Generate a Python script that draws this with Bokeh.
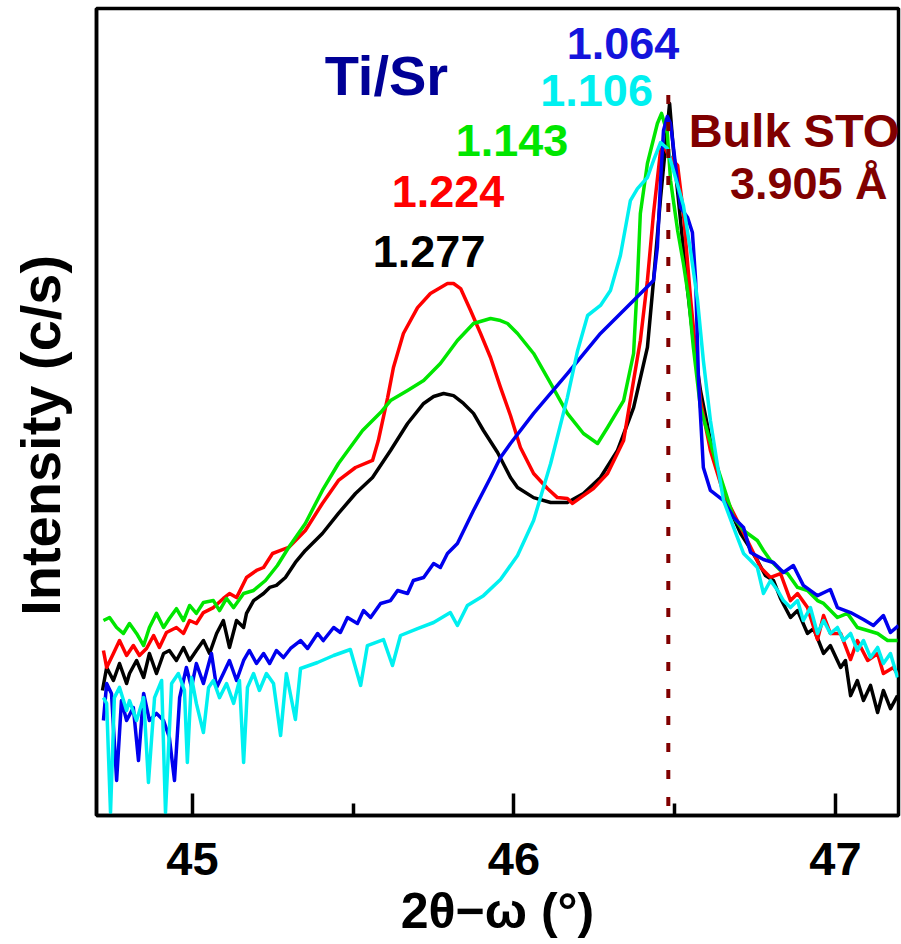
from bokeh.plotting import figure
from bokeh.models import Range1d, FixedTicker, Label
from bokeh.embed import file_html
from bokeh.resources import INLINE

# ---------------- data (2theta in degrees, intensity in c/s) ----------------
x_black = [44.720, 44.733, 44.754, 44.773, 44.795, 44.804, 44.826, 44.848, 44.866, 44.888,
           44.910, 44.928, 44.950, 44.972, 44.991, 45.012, 45.034, 45.053, 45.075, 45.096,
           45.115, 45.137, 45.159, 45.168, 45.190, 45.221, 45.240, 45.261, 45.289, 45.320,
           45.351, 45.404, 45.454, 45.507, 45.560, 45.616, 45.669, 45.719, 45.750,
           45.781, 45.812, 45.843, 45.874, 45.905, 45.949, 45.989, 46.011, 46.061, 46.114,
           46.166, 46.216, 46.269, 46.322, 46.372, 46.415, 46.434, 46.456, 46.471, 46.484,
           46.496, 46.518, 46.540, 46.558, 46.580, 46.611, 46.642, 46.673, 46.705, 46.729,
           46.757, 46.782, 46.807, 46.829, 46.860, 46.882, 46.913, 46.932, 46.963, 46.984,
           47.016, 47.031, 47.047, 47.068, 47.087, 47.109, 47.131, 47.149, 47.171, 47.193]
i_black = [1.78, 3.02, 2.24, 3.31, 2.09, 2.63, 3.55, 2.40, 4.17, 2.63,
           4.17, 4.47, 3.55, 4.79, 3.55, 4.47, 5.62, 4.17, 6.61, 8.91,
           4.79, 8.91, 7.59, 10.5, 14.1, 16.6, 19.1, 20.0, 24.0, 33.9,
           44.7, 66.1, 105, 166, 240, 447, 832, 1320, 1550,
           1660, 1580, 1320, 1050, 708, 427, 240, 191, 151, 135,
           135, 166, 240, 447, 1200, 4790, 22400, 151000, 479000, 1320000,
           447000, 89100, 17800, 5620, 1780, 562, 224, 112, 66.1, 50.1,
           35.5, 25.1, 22.4, 14.8, 9.55, 11.2, 6.61, 7.41, 4.17, 5.01,
           3.02, 3.55, 1.58, 2.24, 1.41, 2.00, 1.07, 1.78, 1.17, 1.58]

x_red = [44.723, 44.733, 44.754, 44.773, 44.795, 44.816, 44.835, 44.857, 44.879, 44.897,
         44.919, 44.950, 44.972, 44.991, 45.012, 45.034, 45.065, 45.096, 45.115, 45.137,
         45.168, 45.199, 45.221, 45.249, 45.274, 45.299, 45.351, 45.404, 45.454, 45.507,
         45.560, 45.578, 45.607, 45.625, 45.656, 45.700, 45.740, 45.793,
         45.812, 45.834, 45.865, 45.896, 45.927, 45.958, 45.989, 46.020, 46.061, 46.104,
         46.135, 46.166, 46.182, 46.207, 46.247, 46.291, 46.341, 46.372, 46.393, 46.415,
         46.434, 46.456, 46.465, 46.481, 46.509, 46.527, 46.549, 46.580, 46.611, 46.652,
         46.683, 46.726, 46.767, 46.798, 46.829, 46.860, 46.882, 46.913, 46.944, 46.963,
         46.984, 47.016, 47.047, 47.068, 47.100, 47.131, 47.149, 47.180, 47.196]
i_red = [4.47, 3.02, 4.17, 5.62, 3.98, 5.01, 3.98, 4.68, 6.31, 4.79,
         6.76, 7.59, 6.61, 8.91, 8.32, 10.7, 12.0, 14.8, 16.6, 15.1,
         24.0, 28.2, 30.2, 41.7, 44.7, 47.9, 70.8, 132, 224, 302,
         355, 562, 1510, 3020, 6610, 12000, 16600, 20900,
         20900, 18600, 11200, 6610, 3800, 1910, 1000, 479, 263, 186,
         151, 148, 132, 151, 186, 263, 562, 2240, 5620, 22400,
         105000, 447000, 501000, 398000, 316000, 105000, 15100, 1410, 447, 166,
         105, 56.2, 30.2, 24.0, 26.3, 14.1, 16.6, 12.0, 5.75, 10.0,
         6.61, 6.61, 3.63, 5.62, 3.55, 4.17, 2.63, 3.02, 2.51]

x_green = [44.723, 44.742, 44.764, 44.785, 44.804, 44.826, 44.848, 44.866, 44.888, 44.910,
           44.928, 44.950, 44.972, 44.991, 45.012, 45.034, 45.065, 45.084, 45.106, 45.128,
           45.159, 45.190, 45.227, 45.264, 45.299, 45.351, 45.404, 45.454, 45.529, 45.585,
           45.616, 45.669, 45.719, 45.771, 45.824, 45.874, 45.927, 45.958,
           45.980, 46.011, 46.061, 46.114, 46.166, 46.216, 46.260, 46.291, 46.341, 46.372,
           46.384, 46.393, 46.415, 46.446, 46.459, 46.477, 46.487, 46.509, 46.527, 46.543,
           46.558, 46.580, 46.633, 46.683, 46.714, 46.757, 46.776, 46.798, 46.829, 46.851,
           46.882, 46.913, 46.944, 46.963, 47.006, 47.037, 47.068, 47.100, 47.131, 47.162, 47.193]
i_green = [8.91, 9.55, 7.59, 6.61, 8.32, 6.61, 5.01, 7.59, 10.5, 7.59,
           9.33, 11.7, 8.91, 12.6, 10.5, 13.5, 14.1, 11.2, 14.8, 12.0,
           16.6, 17.8, 22.4, 31.6, 47.9, 83.2, 178, 331, 708, 1070,
           1410, 1780, 2240, 3310, 5620, 8320, 9330, 8910,
           8320, 6610, 4170, 2090, 1050, 661, 525, 759, 1410, 4170,
           22400, 105000, 331000, 832000, 1050000, 661000, 224000, 70800, 33100, 15100,
           4790, 1200, 302, 95.5, 70.8, 56.2, 44.7, 35.5, 28.2, 26.3,
           19.1, 17.8, 14.1, 13.2, 9.55, 10.5, 7.59, 7.08, 6.61, 5.62, 5.62]

x_blue = [44.723, 44.733, 44.748, 44.764, 44.779, 44.795, 44.816, 44.832, 44.848, 44.866,
          44.888, 44.910, 44.928, 44.944, 44.960, 44.981, 44.997, 45.012, 45.034, 45.059,
          45.075, 45.096, 45.115, 45.137, 45.159, 45.177, 45.199, 45.221, 45.240, 45.261,
          45.283, 45.305, 45.336, 45.358, 45.389, 45.407, 45.439, 45.460, 45.482, 45.513,
          45.532, 45.554, 45.585, 45.616, 45.638, 45.669, 45.687, 45.719, 45.750, 45.771,
          45.793, 45.824, 45.874, 45.927, 45.958, 45.989, 46.061, 46.166, 46.269, 46.372,
          46.434, 46.446, 46.456, 46.465, 46.477, 46.487, 46.496, 46.518, 46.540, 46.555,
          46.565, 46.574, 46.589, 46.611, 46.652, 46.683, 46.714, 46.736, 46.776, 46.807,
          46.838, 46.869, 46.900, 46.944, 46.984, 47.006, 47.047, 47.087, 47.118, 47.149,
          47.171, 47.196]
i_blue = [0.891, 2.09, 1.66, 0.224, 1.41, 0.891, 1.20, 0.355, 1.66, 0.891,
          1.05, 0.891, 0.603, 0.224, 1.51, 3.02, 1.91, 3.31, 2.09, 4.17,
          1.91, 2.63, 3.55, 2.24, 3.55, 4.47, 3.31, 4.17, 3.31, 4.47,
          3.80, 4.68, 5.62, 4.68, 6.61, 5.62, 7.59, 6.76, 9.55, 8.32,
          11.2, 9.55, 13.2, 14.1, 17.8, 16.6, 22.4, 24.0, 33.1, 30.2,
          41.7, 52.5, 112, 240, 380, 525, 1050, 2630, 6610, 14100,
          22400, 47900, 224000, 708000, 977000, 832000, 479000, 120000, 95500, 67600,
          22400, 2240, 302, 178, 141, 95.5, 75.9, 42.7, 36.3, 33.9,
          26.9, 31.6, 20.0, 15.8, 18.2, 12.0, 10.7, 9.12, 7.94, 10.0,
          6.76, 7.94]

x_cyan = [44.723, 44.733, 44.745, 44.757, 44.773, 44.795, 44.804, 44.826, 44.848, 44.863,
          44.882, 44.904, 44.916, 44.935, 44.956, 44.975, 44.984, 44.997, 45.012, 45.034,
          45.050, 45.065, 45.084, 45.106, 45.128, 45.146, 45.159, 45.171, 45.190, 45.208,
          45.230, 45.252, 45.274, 45.292, 45.320, 45.336, 45.389, 45.439, 45.491, 45.523,
          45.544, 45.594, 45.622, 45.647, 45.700, 45.750, 45.802, 45.824, 45.855, 45.905,
          45.958, 46.011, 46.061, 46.114, 46.166, 46.198, 46.229, 46.269, 46.300, 46.331,
          46.362, 46.384, 46.415, 46.434, 46.456, 46.477, 46.496, 46.527, 46.549, 46.571,
          46.589, 46.611, 46.633, 46.652, 46.683, 46.714, 46.736, 46.757, 46.776, 46.798,
          46.820, 46.838, 46.860, 46.882, 46.900, 46.922, 46.944, 46.963, 46.984, 47.006,
          47.025, 47.047, 47.068, 47.087, 47.109, 47.131, 47.149, 47.171, 47.193]
i_cyan = [1.51, 1.32, 0.107, 1.51, 1.91, 1.12, 1.41, 0.891, 1.51, 0.214,
          1.51, 2.24, 0.107, 2.09, 2.63, 1.78, 0.339, 2.40, 1.32, 0.676,
          1.91, 2.24, 1.51, 2.09, 1.32, 2.24, 0.339, 1.91, 2.63, 1.78,
          2.63, 2.09, 0.631, 2.63, 0.912, 2.95, 3.39, 3.98, 4.57, 2.00,
          5.01, 5.75, 3.16, 6.31, 7.41, 8.51, 10.7, 7.94, 12.6, 15.8,
          22.9, 39.8, 89.1, 331, 1510, 4470, 10000, 12600, 17800, 39800,
          141000, 186000, 240000, 355000, 537000, 468000, 282000, 126000, 44700, 14100,
          3550, 891, 316, 141, 75.9, 41.7, 35.5, 30.2, 16.6, 22.4,
          17.8, 14.1, 12.0, 14.1, 8.91, 12.0, 6.61, 8.91, 6.61, 7.59,
          5.62, 6.61, 4.47, 5.62, 3.80, 4.79, 3.31, 4.17, 2.40]

x_major_ticks = [45, 46, 47]
x_minor_ticks = [45.5, 46.5]

bulk_sto_2theta = 46.48
bulk_sto_line_top = 1.6e6

series_labels = ["1.277", "1.224", "1.143", "1.106", "1.064"]

# ---------------- figure ----------------
FONT = "Liberation Sans"

p = figure(frame_width=802, frame_height=807,
           x_range=Range1d(44.7014, 47.196), y_range=Range1d(0.1, 1.175e7),
           y_axis_type="log", output_backend="svg", toolbar_location=None,
           min_border_left=96, min_border_right=3, min_border_top=8, min_border_bottom=129,
           background_fill_color="white", border_fill_color="white")
p.xgrid.visible = False
p.ygrid.visible = False
p.outline_line_color = "black"
p.outline_line_width = 3.5
p.outline_line_alpha = 1.0

xa = p.xaxis[0]
xa.ticker = FixedTicker(ticks=x_major_ticks, minor_ticks=x_minor_ticks)
xa.major_tick_in = 22
xa.major_tick_out = 0
xa.minor_tick_in = 12
xa.minor_tick_out = 0
xa.major_tick_line_width = 3.5
xa.minor_tick_line_width = 3.5
xa.axis_line_width = 3.5
xa.major_label_text_font = FONT
xa.major_label_text_font_style = "bold"
xa.major_label_text_font_size = "47px"
xa.major_label_text_color = "black"
xa.major_label_standoff = 27
xa.axis_label = "2θ−ω (°)"
xa.axis_label_text_font = FONT
xa.axis_label_text_font_style = "bold"
xa.axis_label_text_font_size = "50px"
xa.axis_label_text_color = "black"
xa.axis_label_standoff = 5

ya = p.yaxis[0]
ya.ticker = FixedTicker(ticks=[], minor_ticks=[])
ya.major_label_text_font_size = "0px"
ya.major_tick_in = 0
ya.major_tick_out = 0
ya.minor_tick_in = 0
ya.minor_tick_out = 0
ya.axis_line_width = 3.5
ya.axis_label = "Intensity (c/s)\u00a0\u00a0\u00a0"
ya.axis_label_text_font = FONT
ya.axis_label_text_font_style = "bold"
ya.axis_label_text_font_size = "56px"
ya.axis_label_text_color = "black"
ya.axis_label_standoff = 25

LW = 3.5
p.line(x_black, i_black, line_color="#000000", line_width=LW, line_join="round")
p.line(x_red, i_red, line_color="#ff0000", line_width=LW, line_join="round")
p.line(x_green, i_green, line_color="#00e600", line_width=LW, line_join="round")
p.line(x_blue, i_blue, line_color="#0000ee", line_width=LW, line_join="round")
p.line(x_cyan, i_cyan, line_color="#00f0f0", line_width=LW, line_join="round")

p.line([bulk_sto_2theta, bulk_sto_2theta], [bulk_sto_line_top, p.y_range.start],
       line_color="#800000", line_width=4, line_dash="9 18")

def add_label(x, y, text, color, size):
    p.add_layout(Label(x=x, y=y, text=text, text_color=color, text_font=FONT,
                       text_font_style="bold", text_font_size=size,
                       text_align="center", text_baseline="alphabetic"))

add_label(45.603, 2.51e6, "Ti/Sr", "#000096", "56px")
add_label(46.339, 5.25e6, series_labels[4], "#1414dc", "45px")
add_label(46.257, 1.78e6, series_labels[3], "#00f0f0", "45px")
add_label(45.994, 5.62e5, series_labels[2], "#00e600", "45px")
add_label(45.795, 1.74e5, series_labels[1], "#ff0000", "45px")
add_label(45.736, 4.37e4, series_labels[0], "#000000", "45px")
add_label(46.871, 7.08e5, "Bulk STO", "#800000", "47px")
add_label(46.917, 2.09e5, "3.905 Å", "#800000", "45px")

open("out.html", "w").write(file_html(p, INLINE))
